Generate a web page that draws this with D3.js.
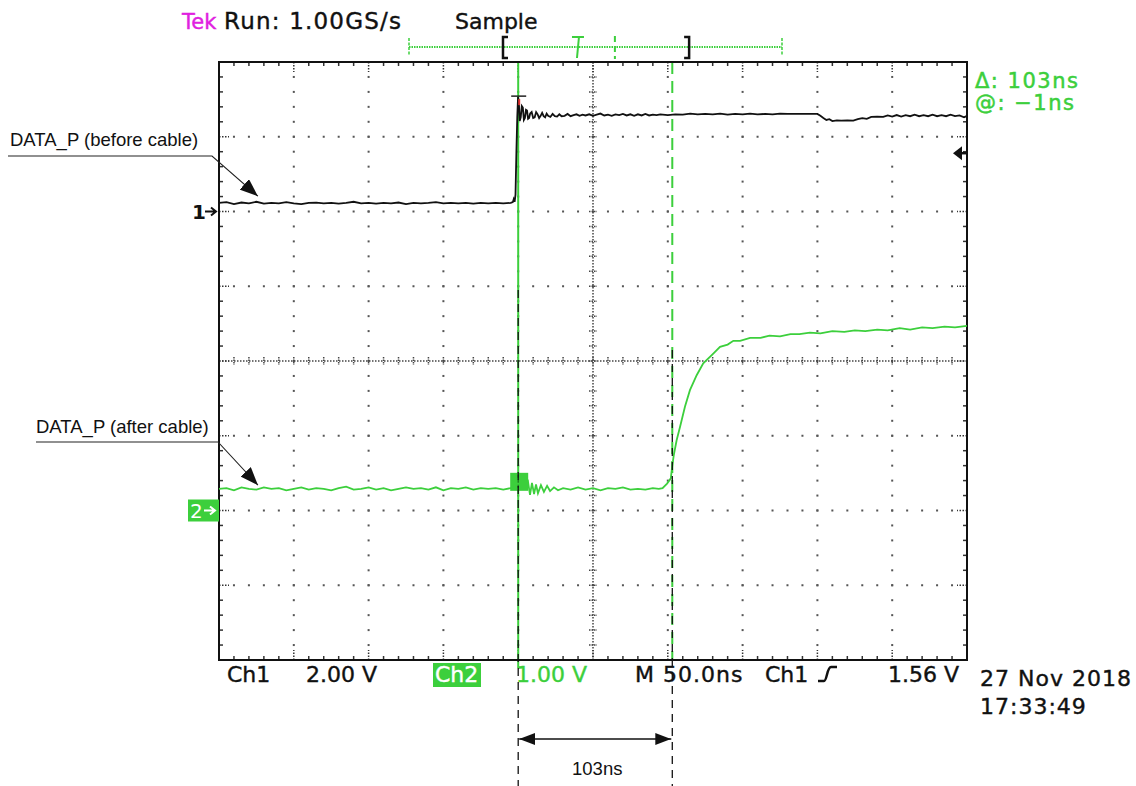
<!DOCTYPE html>
<html>
<head>
<meta charset="utf-8">
<script src="https://cdn.jsdelivr.net/npm/d3@7"></script>
<style>
  body { margin: 0; background: #fff; }
  svg { display: block; }
</style>
</head>
<body>
<script>
const W = 1136, H = 786

// time in ns from screen centre, value in volts
const ch1Trace = [
  [-250, 0.23], [-245, 0.25], [-240, 0.20], [-235, 0.24], [-230, 0.22], [-225, 0.26], [-220, 0.21], [-215, 0.23],
  [-210, 0.22], [-205, 0.25], [-200, 0.22], [-195, 0.20], [-190, 0.23], [-185, 0.24], [-180, 0.22], [-175, 0.23],
  [-170, 0.21], [-165, 0.23], [-160, 0.26], [-155, 0.22], [-150, 0.23], [-145, 0.21], [-140, 0.23], [-135, 0.22],
  [-130, 0.24], [-125, 0.20], [-120, 0.23], [-115, 0.22], [-110, 0.23], [-105, 0.25], [-100, 0.22], [-95, 0.23],
  [-90, 0.22], [-85, 0.23], [-80, 0.21], [-75, 0.23], [-70, 0.22], [-65, 0.23], [-60, 0.22], [-55, 0.23],
  [-53.6, 0.25], [-53.0, 0.33], [-52.4, 0.26], [-51.8, 0.45], [-51.2, 1.60], [-50.6, 2.55], [-50.1, 3.06],
  [-49.6, 2.95], [-49.0, 2.42], [-48.3, 2.52], [-47.6, 2.82], [-46.9, 2.78], [-46.2, 2.45], [-45.5, 2.50],
  [-44.8, 2.72], [-44.1, 2.70], [-43.4, 2.48], [-42.7, 2.50], [-42.0, 2.62], [-41.0, 2.66], [-40.0, 2.50],
  [-39.0, 2.52], [-38.0, 2.66], [-37.0, 2.60], [-36.0, 2.50], [-35.0, 2.56], [-34.0, 2.64], [-33.0, 2.55],
  [-32.0, 2.52], [-31.0, 2.62], [-30.0, 2.56], [-28.5, 2.53], [-27.0, 2.61], [-25.5, 2.55], [-24.0, 2.54],
  [-22.5, 2.60], [-21.0, 2.55], [-19.0, 2.56], [-17.0, 2.61], [-15.0, 2.55], [-13.0, 2.58], [-11.0, 2.60],
  [-9.0, 2.56], [-7.0, 2.59], [-5.0, 2.57], [-2.5, 2.60], [0, 2.56], [2.5, 2.59], [5, 2.62], [7.5, 2.57],
  [10, 2.59], [12.5, 2.56], [15, 2.60], [17.5, 2.58], [20, 2.61], [22.5, 2.57], [25, 2.60], [27.5, 2.56],
  [30, 2.60], [32.5, 2.57], [35, 2.61], [37.5, 2.57], [40, 2.59], [42.5, 2.58], [45, 2.60], [50, 2.58],
  [55, 2.60], [60, 2.59], [65, 2.62], [70, 2.60], [75, 2.61], [80, 2.60], [85, 2.62], [90, 2.59],
  [95, 2.61], [100, 2.60], [105, 2.62], [110, 2.60], [115, 2.61], [120, 2.60], [125, 2.62], [130, 2.61],
  [135, 2.61], [140, 2.61], [145, 2.61], [150, 2.61], [152, 2.56], [154, 2.50], [156, 2.45], [158, 2.47],
  [160, 2.42], [163, 2.44], [166, 2.43], [170, 2.44], [174, 2.43], [177, 2.47], [180, 2.50], [183, 2.48],
  [186, 2.53], [190, 2.54], [194, 2.53], [197, 2.57], [200, 2.54], [203, 2.58], [206, 2.54], [209, 2.58],
  [212, 2.55], [215, 2.59], [218, 2.55], [221, 2.58], [224, 2.55], [227, 2.59], [230, 2.55], [233, 2.58],
  [236, 2.55], [239, 2.59], [242, 2.55], [245, 2.57], [248, 2.52], [250, 2.56]
]

const ch2Trace = [
  [-250, 0.29], [-245, 0.30], [-240, 0.27], [-235, 0.31], [-230, 0.29], [-225, 0.28], [-220, 0.31], [-215, 0.29],
  [-210, 0.30], [-205, 0.27], [-200, 0.29], [-195, 0.31], [-190, 0.28], [-185, 0.30], [-180, 0.29], [-175, 0.27],
  [-170, 0.30], [-165, 0.32], [-160, 0.28], [-155, 0.29], [-150, 0.31], [-145, 0.28], [-140, 0.30], [-135, 0.27],
  [-130, 0.29], [-125, 0.31], [-120, 0.29], [-115, 0.30], [-110, 0.28], [-105, 0.31], [-100, 0.27], [-95, 0.30],
  [-90, 0.29], [-85, 0.31], [-80, 0.28], [-75, 0.30], [-70, 0.29], [-65, 0.30], [-60, 0.28], [-55, 0.30],
  [-52, 0.30], [-48, 0.29], [-45, 0.31], [-43.4, 0.38], [-42.1, 0.21], [-40.8, 0.37], [-39.4, 0.22],
  [-38.1, 0.35], [-36.8, 0.23], [-34.8, 0.34], [-32.8, 0.25], [-30.7, 0.33], [-28.7, 0.26], [-26.1, 0.31],
  [-23.4, 0.27], [-20, 0.30], [-15, 0.28], [-10, 0.31], [-5, 0.28], [0, 0.30], [5, 0.27], [10, 0.30],
  [15, 0.29], [20, 0.31], [25, 0.28], [30, 0.29], [35, 0.28], [40, 0.30], [44, 0.29], [46.5, 0.30],
  [49.5, 0.36], [52.0, 0.43], [53.0, 0.60], [54.0, 0.74], [55.9, 0.94], [58.2, 1.12], [61.5, 1.39],
  [64.8, 1.61], [69.3, 1.81], [73.7, 1.97], [80.4, 2.10], [84.9, 2.19], [90, 2.22], [93.8, 2.27],
  [98.3, 2.27], [105, 2.31], [112, 2.31], [118, 2.34], [125, 2.33], [132, 2.36], [138, 2.36], [145, 2.38],
  [152, 2.37], [160, 2.40], [168, 2.39], [175, 2.41], [182, 2.40], [190, 2.42], [197, 2.41], [205, 2.44],
  [212, 2.42], [220, 2.45], [227, 2.44], [235, 2.46], [242, 2.45], [250, 2.47]
]

const ch1VoltsPerDiv = 2.00
const ch2VoltsPerDiv = 1.00
const ch1OffsetDiv = 2
const ch2OffsetDiv = -2
const nsPerDiv = 50
const cursorTimes = [-50, 53]
const trigLevel = 1.56

const headerTexts = ["Tek", "Run: 1.00GS/s", "Sample"]
const cursorReadout = ["\u0394: 103ns", "@: \u22121ns"]
const bottomTexts = ["Ch1", "2.00 V", "Ch2", "1.00 V", "M 50.0ns", "Ch1", "1.56 V"]
const dateTexts = ["27 Nov 2018", "17:33:49"]
const noteTexts = ["DATA_P (before cable)", "DATA_P (after cable)", "103ns"]

const GREEN = "#3ccf3c"
const TEKFONT = "'DejaVu Sans', sans-serif"
const NOTEFONT = "'Liberation Sans', Arial, sans-serif"

const plot = {left: 219, right: 967, top: 62, bottom: 660}

const x = d3.scaleLinear().domain([-5 * nsPerDiv, 5 * nsPerDiv]).range([plot.left, plot.right])
const yDiv = d3.scaleLinear().domain([-4, 4]).range([plot.bottom, plot.top])
const y1 = d3.scaleLinear()
  .domain([(-4 - ch1OffsetDiv) * ch1VoltsPerDiv, (4 - ch1OffsetDiv) * ch1VoltsPerDiv])
  .range([plot.bottom, plot.top])
const y2 = d3.scaleLinear()
  .domain([(-4 - ch2OffsetDiv) * ch2VoltsPerDiv, (4 - ch2OffsetDiv) * ch2VoltsPerDiv])
  .range([plot.bottom, plot.top])
const xDiv = d3.scaleLinear().domain([-5, 5]).range([plot.left, plot.right])

const svg = d3.select("body").append("svg").attr("width", W).attr("height", H)
const defs = svg.append("defs")

// ---- graticule
const grat = svg.append("g")
const minorX = d3.range(-25, 26).map(d => d / 5)
const minorY = d3.range(-20, 21).map(d => d / 5)

// dotted grid lines
d3.range(-4, 5).filter(d => d !== 0).forEach(i => {
  grat.append("g").selectAll("rect").data(minorY.slice(1, -1)).join("rect")
    .attr("x", xDiv(i) - 1).attr("y", d => yDiv(d) - 1)
    .attr("width", 2).attr("height", 2).attr("fill", "#555")
})
d3.range(-3, 4).filter(d => d !== 0).forEach(j => {
  grat.append("g").selectAll("rect").data(minorX.slice(1, -1)).join("rect")
    .attr("x", d => xDiv(d) - 1).attr("y", yDiv(j) - 1)
    .attr("width", 2).attr("height", 2).attr("fill", "#555")
})

// centre cross
grat.append("line").attr("x1", plot.left).attr("x2", plot.right)
  .attr("y1", yDiv(0)).attr("y2", yDiv(0))
  .attr("stroke", "#444").attr("stroke-dasharray", "1.5,1.5").attr("stroke-width", 1.5)
grat.append("line").attr("x1", xDiv(0)).attr("x2", xDiv(0))
  .attr("y1", plot.top).attr("y2", plot.bottom)
  .attr("stroke", "#444").attr("stroke-dasharray", "1.5,1.5").attr("stroke-width", 1.5)
grat.append("g").selectAll("line").data(minorX).join("line")
  .attr("x1", d => xDiv(d)).attr("x2", d => xDiv(d))
  .attr("y1", yDiv(0) - 4).attr("y2", yDiv(0) + 4)
  .attr("stroke", "#444").attr("stroke-width", 1.5).attr("stroke-dasharray", "1.5,1")
grat.append("g").selectAll("line").data(minorY).join("line")
  .attr("y1", d => yDiv(d)).attr("y2", d => yDiv(d))
  .attr("x1", xDiv(0) - 4).attr("x2", xDiv(0) + 4)
  .attr("stroke", "#444").attr("stroke-width", 1.5).attr("stroke-dasharray", "1.5,1")

// edge ticks
const edgeTick = (data, f) => grat.append("g").selectAll("line").data(data).join("line").each(f)
  .attr("stroke", "#333").attr("stroke-width", 1.5)
edgeTick(minorX, function(d) {
  const len = Number.isInteger(d) ? 10 : 4
  d3.select(this).attr("x1", xDiv(d)).attr("x2", xDiv(d)).attr("y1", plot.top).attr("y2", plot.top + len)
    .attr("stroke-dasharray", Number.isInteger(d) ? "1.5,1.5" : null)
})
edgeTick(minorX, function(d) {
  const len = Number.isInteger(d) ? 10 : 4
  d3.select(this).attr("x1", xDiv(d)).attr("x2", xDiv(d)).attr("y1", plot.bottom).attr("y2", plot.bottom - len)
    .attr("stroke-dasharray", Number.isInteger(d) ? "1.5,1.5" : null)
})
edgeTick(minorY, function(d) {
  const len = Number.isInteger(d) ? 10 : 4
  d3.select(this).attr("y1", yDiv(d)).attr("y2", yDiv(d)).attr("x1", plot.left).attr("x2", plot.left + len)
    .attr("stroke-dasharray", Number.isInteger(d) ? "1.5,1.5" : null)
})
edgeTick(minorY, function(d) {
  const len = Number.isInteger(d) ? 10 : 4
  d3.select(this).attr("y1", yDiv(d)).attr("y2", yDiv(d)).attr("x1", plot.right).attr("x2", plot.right - len)
    .attr("stroke-dasharray", Number.isInteger(d) ? "1.5,1.5" : null)
})

// ---- cursors
svg.append("line").attr("x1", x(cursorTimes[0])).attr("x2", x(cursorTimes[0]))
  .attr("y1", plot.top).attr("y2", plot.bottom + 8)
  .attr("stroke", GREEN).attr("stroke-width", 2)
svg.append("line").attr("x1", x(cursorTimes[1])).attr("x2", x(cursorTimes[1]))
  .attr("y1", plot.top).attr("y2", plot.bottom)
  .attr("stroke", GREEN).attr("stroke-width", 2).attr("stroke-dasharray", "12,7")

// frame
svg.append("rect").attr("x", plot.left).attr("y", plot.top)
  .attr("width", plot.right - plot.left).attr("height", plot.bottom - plot.top)
  .attr("fill", "none").attr("stroke", "#111").attr("stroke-width", 2)

// ---- traces
const line1 = d3.line().x(d => x(d[0])).y(d => y1(d[1]))
const line2 = d3.line().x(d => x(d[0])).y(d => y2(d[1]))
svg.append("path").datum(ch2Trace).attr("d", line2)
  .attr("fill", "none").attr("stroke", GREEN).attr("stroke-width", 1.8)
svg.append("path").datum(ch1Trace).attr("d", line1)
  .attr("fill", "none").attr("stroke", "#111").attr("stroke-width", 1.8)

// cursor markers on the traces
const c1x = x(cursorTimes[0])
const peak = d3.max(ch1Trace, d => d[1])
svg.append("line").attr("x1", c1x - 7).attr("x2", c1x + 8)
  .attr("y1", y1(peak) - 1).attr("y2", y1(peak) - 1).attr("stroke", "#222").attr("stroke-width", 1.5)
svg.append("rect").attr("x", c1x).attr("y", y1(peak) + 2).attr("width", 2).attr("height", 6).attr("fill", "#e03030")
svg.append("rect").attr("x", c1x - 8).attr("y", y2(0.29) - 16).attr("width", 18).attr("height", 18)
  .attr("fill", GREEN)
svg.append("line").attr("x1", c1x).attr("x2", c1x).attr("y1", y2(0.29) - 14).attr("y2", y2(0.29) + 2)
  .attr("stroke", "#1a6a1a").attr("stroke-width", 1.2).attr("stroke-dasharray", "3,2")

// ---- channel ground markers
const g1 = yDiv(ch1OffsetDiv)
svg.append("text").attr("x", 192).attr("y", g1 + 7).text("1")
  .attr("font-family", TEKFONT).attr("font-size", 20).attr("font-weight", "bold").attr("fill", "#111")
svg.append("path").attr("d", `M205,${g1}H215M211,${g1 - 4}L216,${g1}L211,${g1 + 4}`)
  .attr("stroke", "#111").attr("stroke-width", 2).attr("fill", "none")

const g2 = yDiv(ch2OffsetDiv)
svg.append("rect").attr("x", 188).attr("y", g2 - 11).attr("width", 31).attr("height", 22).attr("fill", GREEN)
svg.append("text").attr("x", 190).attr("y", g2 + 7).text("2")
  .attr("font-family", TEKFONT).attr("font-size", 20).attr("fill", "#fff")
svg.append("path").attr("d", `M204,${g2}H214M210,${g2 - 4}L215,${g2}L210,${g2 + 4}`)
  .attr("stroke", "#fff").attr("stroke-width", 2).attr("fill", "none")

// trigger level arrow on right edge
const ty = y1(trigLevel)
svg.append("path").attr("d", `M${plot.right - 14},${ty}L${plot.right - 5},${ty - 7}L${plot.right - 5},${ty + 7}Z`)
  .attr("fill", "#111")
svg.append("line").attr("x1", plot.right - 6).attr("x2", plot.right).attr("y1", ty).attr("y2", ty)
  .attr("stroke", "#111").attr("stroke-width", 2.5)

// ---- header
const header = svg.append("g").attr("font-family", TEKFONT).attr("font-size", 23)
  .attr("stroke-width", 0.4)
header.append("text").attr("x", 182).attr("y", 29).attr("fill", "#e020e0").attr("stroke", "#e020e0")
  .attr("font-size", 21).text(headerTexts[0])
header.append("text").attr("x", 224).attr("y", 29).attr("fill", "#111").attr("stroke", "#111")
  .attr("letter-spacing", 1.2).text(headerTexts[1])
header.append("text").attr("x", 455).attr("y", 29).attr("fill", "#111").attr("stroke", "#111")
  .attr("font-size", 22).text(headerTexts[2])

// record window bar
const rec = d3.scaleLinear().domain([0, 1]).range([409, 782])
const barY = 47
svg.append("line").attr("x1", rec(0)).attr("x2", rec(1)).attr("y1", barY).attr("y2", barY)
  .attr("stroke", GREEN).attr("stroke-width", 2).attr("stroke-dasharray", "1.5,1")
;[0, 1].forEach(p => svg.append("line").attr("x1", rec(p)).attr("x2", rec(p)).attr("y1", barY - 9).attr("y2", barY + 9)
  .attr("stroke", GREEN).attr("stroke-width", 1.5).attr("stroke-dasharray", "3,1.5"))
svg.append("path").attr("d", `M${rec(0.252) + 5},${barY - 10}H${rec(0.252)}V${barY + 11}H${rec(0.252) + 5}`)
  .attr("stroke", "#111").attr("stroke-width", 2.5).attr("fill", "none")
svg.append("path").attr("d", `M${rec(0.751) - 5},${barY - 10}H${rec(0.751)}V${barY + 11}H${rec(0.751) - 5}`)
  .attr("stroke", "#111").attr("stroke-width", 2.5).attr("fill", "none")
svg.append("path").attr("d", `M${rec(0.453) - 6},${barY - 10}H${rec(0.453) + 6}M${rec(0.453) + 1},${barY - 10}L${rec(0.453) - 1},${barY + 11}`)
  .attr("stroke", GREEN).attr("stroke-width", 2).attr("fill", "none")
svg.append("line").attr("x1", rec(0.552)).attr("x2", rec(0.552)).attr("y1", barY - 11).attr("y2", barY + 12)
  .attr("stroke", GREEN).attr("stroke-width", 2).attr("stroke-dasharray", "6,4")

// cursor readout
const ro = svg.append("g").attr("font-family", TEKFONT).attr("font-size", 21).attr("fill", GREEN)
  .attr("stroke", GREEN).attr("stroke-width", 0.5).attr("letter-spacing", 1.5)
ro.append("text").attr("x", 975).attr("y", 88).text(cursorReadout[0])
ro.append("text").attr("x", 975).attr("y", 110).text(cursorReadout[1])

// ---- bottom readout
const bottomY = 682
svg.append("rect").attr("x", 433).attr("y", 663).attr("width", 48).attr("height", 24).attr("fill", GREEN)
const bot = svg.append("g").attr("font-family", TEKFONT).attr("font-size", 22).attr("stroke-width", 0.4)
const bottomX = [227, 306, 435, 516, 635, 765, 888]
bottomTexts.forEach((t, i) => {
  const c = i === 2 ? "#fff" : i === 3 ? GREEN : "#111"
  bot.append("text").attr("x", bottomX[i]).attr("y", bottomY).text(t).attr("fill", c).attr("stroke", c)
    .attr("letter-spacing", i === 4 ? 1 : 0)
})
svg.append("path").attr("d", "M818,681H824C827,681 827,667 831,667H837")
  .attr("stroke", "#111").attr("stroke-width", 2.5).attr("fill", "none")

const dt = svg.append("g").attr("font-family", TEKFONT).attr("font-size", 22).attr("fill", "#111")
  .attr("stroke", "#111").attr("stroke-width", 0.4).attr("letter-spacing", 1)
dt.append("text").attr("x", 980).attr("y", 686).text(dateTexts[0])
dt.append("text").attr("x", 980).attr("y", 714).text(dateTexts[1])

// ---- annotations
defs.append("marker").attr("id", "tri").attr("viewBox", "0 0 18 14").attr("refX", 18).attr("refY", 7)
  .attr("markerWidth", 18).attr("markerHeight", 14).attr("markerUnits", "userSpaceOnUse")
  .attr("orient", "auto-start-reverse")
  .append("path").attr("d", "M0,0L18,7L0,14Z").attr("fill", "#111")
defs.append("marker").attr("id", "tri2").attr("viewBox", "0 0 16 12").attr("refX", 16).attr("refY", 6)
  .attr("markerWidth", 16).attr("markerHeight", 12).attr("markerUnits", "userSpaceOnUse")
  .attr("orient", "auto-start-reverse")
  .append("path").attr("d", "M0,0L16,6L0,12Z").attr("fill", "#111")

const notes = svg.append("g").attr("font-family", NOTEFONT).attr("font-size", 18.5).attr("fill", "#111")
notes.append("text").attr("x", 10).attr("y", 146).text(noteTexts[0])
notes.append("text").attr("x", 36).attr("y", 433).text(noteTexts[1])

svg.append("path").attr("d", `M8,156H212L${x(-224)},${y1(0.41)}`)
  .attr("fill", "none").attr("stroke", "#222").attr("stroke-width", 1.1).attr("marker-end", "url(#tri)")
svg.append("path").attr("d", `M36,442H218L${x(-224)},${y2(0.34)}`)
  .attr("fill", "none").attr("stroke", "#222").attr("stroke-width", 1.1).attr("marker-end", "url(#tri)")

// dashed drop lines and measurement arrow
svg.append("line").attr("x1", x(cursorTimes[0])).attr("x2", x(cursorTimes[0])).attr("y1", 290).attr("y2", H)
  .attr("stroke", "#111").attr("stroke-width", 1.3).attr("stroke-dasharray", "8,6")
svg.append("line").attr("x1", x(cursorTimes[1])).attr("x2", x(cursorTimes[1])).attr("y1", 350).attr("y2", H)
  .attr("stroke", "#111").attr("stroke-width", 1.3).attr("stroke-dasharray", "8,6")
svg.append("line").attr("x1", x(cursorTimes[0]) + 1).attr("x2", x(cursorTimes[1]) - 1).attr("y1", 739).attr("y2", 739)
  .attr("stroke", "#111").attr("stroke-width", 1.3)
  .attr("marker-start", "url(#tri2)").attr("marker-end", "url(#tri2)")
notes.append("text").attr("x", (x(cursorTimes[0]) + x(cursorTimes[1])) / 2 + 2).attr("y", 775)
  .attr("text-anchor", "middle").text(noteTexts[2])
</script>
</body>
</html>
